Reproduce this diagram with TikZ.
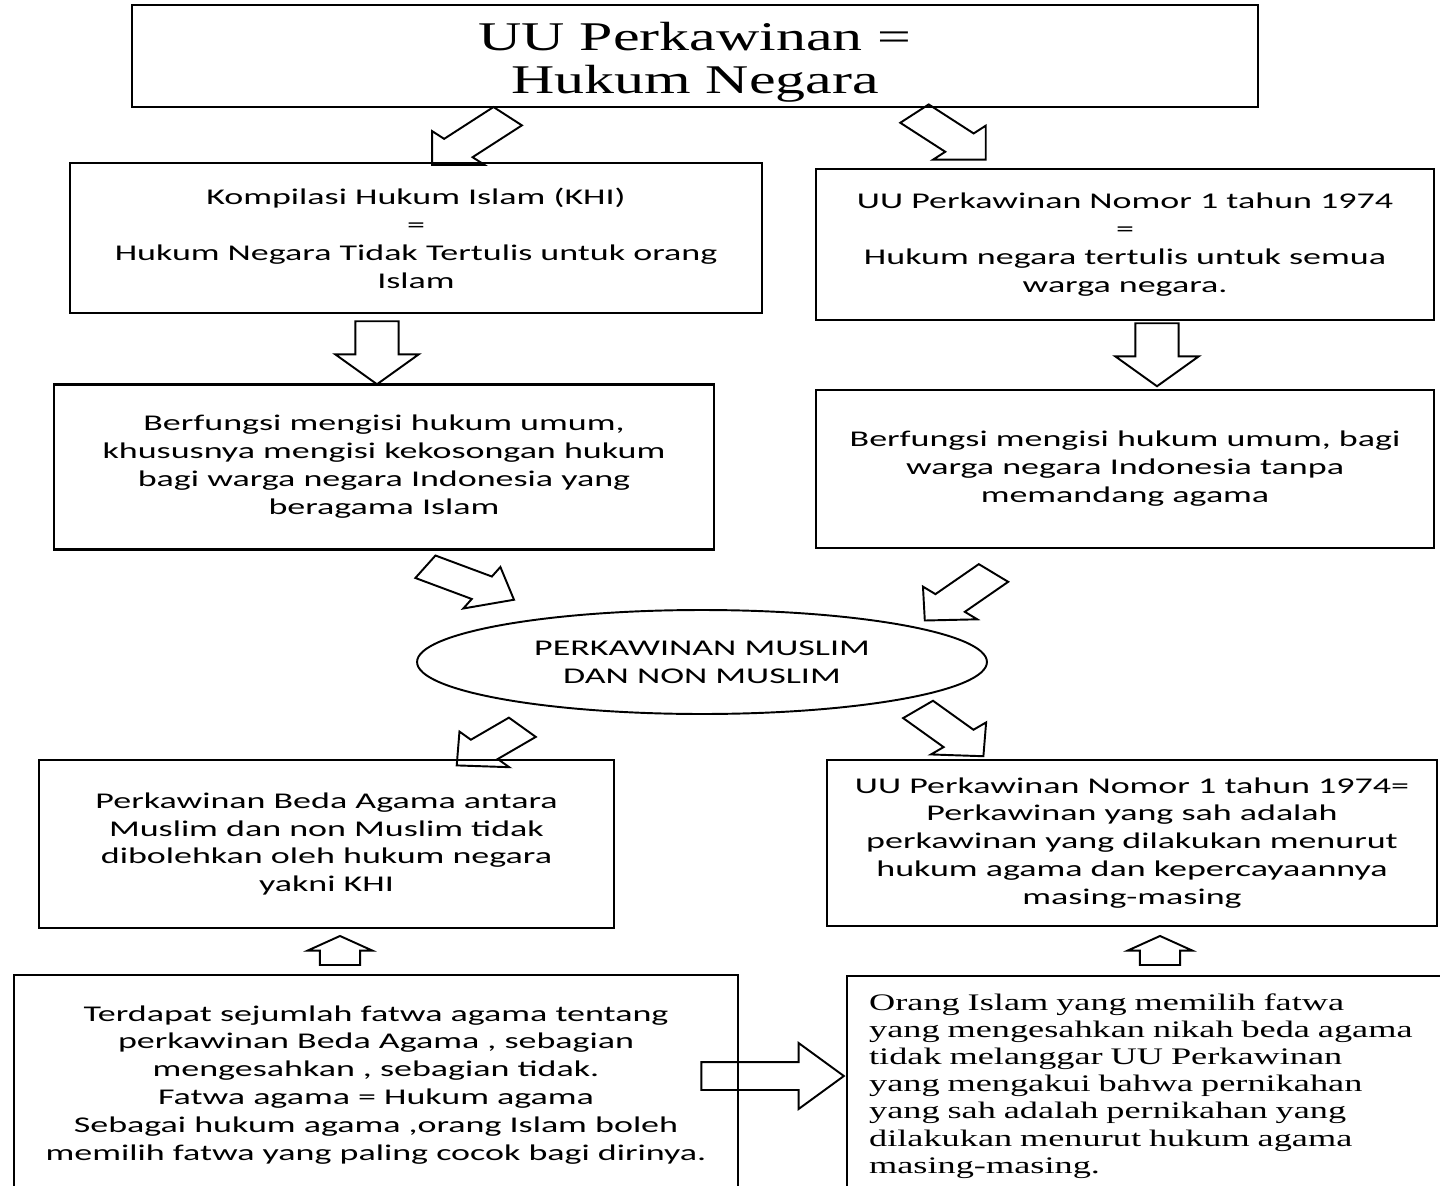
\documentclass[tikz,border=0pt]{standalone}
\usepackage{fontspec}
\setmainfont{Carlito}
\newfontfamily\bodyfont[FakeStretch=1.6]{Carlito}
\newfontfamily\serifbody[FakeStretch=1.53]{Liberation Serif}
\newfontfamily\titlefont[FakeStretch=1.47]{Liberation Serif}
\usetikzlibrary{shapes.geometric,shapes.arrows}

\begin{document}
\begin{tikzpicture}[x=0.02cm, y=-0.02cm,
    cel/.style={rectangle, draw, line width=1.3pt, align=center,
      font=\bodyfont\fontsize{12.8}{15.9}\selectfont},
    ttl/.style={cel, inner sep=0pt, font=\titlefont\fontsize{23.2}{24.5}\selectfont},
    ovl/.style={ellipse, draw, line width=1.1pt, inner sep=0pt, align=center,
      font=\bodyfont\fontsize{12.8}{15.9}\selectfont},
    arw/.style={single arrow, draw, fill=white, line width=1.1pt,
      minimum width=0pt, inner xsep=0pt, inner ysep=0.24cm,
      single arrow head extend=0.22cm, single arrow tip angle=90,
      minimum height=#1, xscale=1.55},
    arwv/.style={arw=#1, inner ysep=0.26cm, single arrow head extend=0.26cm,
      single arrow tip angle=84},
    arwup/.style={arw=0.58cm, single arrow head extend=0.16cm,
      single arrow tip angle=110}
  ]
    \useasboundingbox (0,0) rectangle (1440,1186);
    \clip (0,0) rectangle (1440,1186);

    % Arrows first, the boxes are drawn over them
    \node[arw=1.38cm, rotate=-135] (a1) at (477,136) {};
    \node[arw=1.3cm, rotate=-45]   (a2) at (943,132) {};
    \node[arwv=1.26cm, rotate=-90] (a3) at (377,345) {};
    \node[arwv=1.26cm, rotate=-90] (a4) at (1157,347) {};
    \node[arw=1.32cm, rotate=-30]  (a5) at (461,580) {};
    \node[arw=1.3cm, rotate=-133]  (a6) at (966,592) {};
    \node[arw=1.14cm, rotate=-138] (a7) at (497,742) {};
    \node[arw=1.26cm, rotate=-48]  (a8) at (944,728) {};
    \node[arwup, rotate=90] (a9)  at (340,955) {};
    \node[arwup, rotate=90] (a10) at (1160,955) {};
    \node[arw=1.84cm, inner ysep=0.26cm, single arrow head extend=0.38cm,
      single arrow tip angle=97] (a11) at (763,1076) {};

    % Title
    \node[ttl, minimum width=22.52cm, minimum height=2.04cm] (judul) at (695,56)
      {\rule{0pt}{22.8pt}UU Perkawinan =\\Hukum Negara};

    % Row 2
    \node[cel, minimum width=13.84cm, minimum height=3cm] (khi) at (416,238)
      {Kompilasi Hukum Islam (KHI)\\=\\Hukum Negara Tidak Tertulis untuk orang\\Islam};
    \node[cel, minimum width=12.36cm, minimum height=3.02cm] (uu) at (1125,244.5)
      {UU Perkawinan Nomor 1 tahun 1974\\=\\Hukum negara tertulis untuk semua\\warga negara.};

    % Row 3
    \node[cel, minimum width=13.2cm, minimum height=3.3cm] (isiL) at (384,467)
      {Berfungsi mengisi hukum umum,\\khususnya mengisi kekosongan hukum\\bagi warga negara Indonesia yang\\beragama Islam};
    \node[cel, minimum width=12.36cm, minimum height=3.16cm] (isiR) at (1125,469)
      {Berfungsi mengisi hukum umum, bagi\\warga negara Indonesia tanpa\\memandang agama};

    % Oval
    \node[ovl, minimum width=11.4cm, minimum height=2.08cm] (nikah) at (702,662)
      {PERKAWINAN MUSLIM\\DAN NON MUSLIM};

    % Row 4
    \node[cel, minimum width=11.5cm, minimum height=3.36cm] (bedaL) at (326.5,844)
      {Perkawinan Beda Agama antara\\Muslim dan non Muslim tidak\\dibolehkan oleh hukum negara\\yakni KHI};
    \node[cel, minimum width=12.2cm, minimum height=3.32cm] (sahR) at (1132,843)
      {UU Perkawinan Nomor 1 tahun 1974=\\Perkawinan yang sah adalah\\perkawinan yang dilakukan menurut\\hukum agama dan kepercayaannya\\masing-masing};

    % Row 5 -- runs off the page bottom
    \node[cel, minimum width=14.48cm, minimum height=4.4cm] (fatwaL) at (376,1085)
      {Terdapat sejumlah fatwa agama tentang\\perkawinan Beda Agama , sebagian\\mengesahkan , sebagian tidak.\\Fatwa agama = Hukum agama\\Sebagai hukum agama ,orang Islam boleh\\memilih fatwa yang paling cocok bagi dirinya.};
    \node[cel, anchor=north west, minimum width=12.08cm, minimum height=4.4cm,
      text width=11.2cm, inner xsep=0.44cm, align=left,
      font=\serifbody\fontsize{13.5}{15.4}\selectfont] (pilihR) at (846,975)
      {Orang Islam yang memilih fatwa\\yang mengesahkan nikah beda agama\\tidak melanggar UU Perkawinan\\yang mengakui bahwa pernikahan\\yang sah adalah pernikahan yang\\dilakukan menurut hukum agama\\masing-masing.};
\end{tikzpicture}
\end{document}
